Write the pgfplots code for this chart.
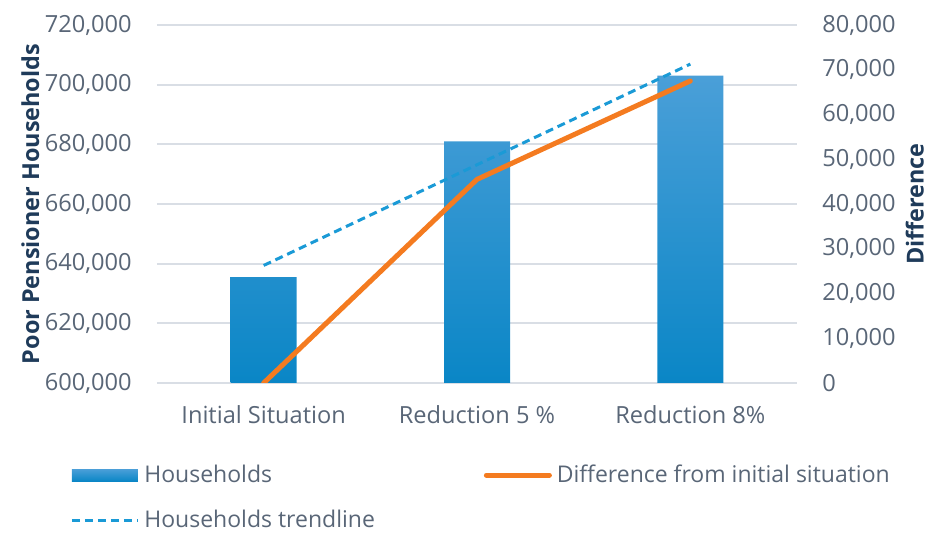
\documentclass[border=0pt]{standalone}
\usepackage{pgfplots}
\pgfplotsset{compat=1.18}
\usepackage{fontspec}
\setmainfont{Open Sans}
\definecolor{tickc}{HTML}{596677}
\definecolor{labc}{HTML}{1F3B5A}
\definecolor{gridc}{HTML}{D9DEE5}
\definecolor{bartop}{HTML}{4A9FD8}
\definecolor{barmid}{HTML}{0A96D6}
\definecolor{barbot}{HTML}{0A86C6}
\definecolor{barleg}{HTML}{0A8FD0}
\definecolor{orng}{HTML}{F47B20}
\definecolor{trend}{HTML}{1A9AD6}
\newcommand{\shiftdown}[1]{\begingroup\pgfkeys{/pgf/fpu=true,/pgf/fpu/output format=fixed}\pgfmathparse{#1-600000}\xdef\mytrafo{\pgfmathresult}\endgroup\let\pgfmathresult\mytrafo}
\newcommand{\shiftup}[1]{\begingroup\pgfkeys{/pgf/fpu=true,/pgf/fpu/output format=fixed}\pgfmathparse{#1+600000}\xdef\mytrafo{\pgfmathresult}\endgroup\let\pgfmathresult\mytrafo}
\begin{document}
\begin{tikzpicture}
\useasboundingbox (-78.5pt,-75pt) rectangle (385pt,191.5pt);
\begin{axis}[
  at={(0,0)}, anchor=south west,
  scale only axis, width=320pt, height=179pt,
  xmin=-0.5, xmax=2.5,
  y coord trafo/.code={\shiftdown{#1}},
  y coord inv trafo/.code={\shiftup{#1}},
  ymin=600000, ymax=720000,
  ytick={600000,620000,640000,660000,680000,700000,720000},
  yticklabels={{600,000},{620,000},{640,000},{660,000},{680,000},{700,000},{720,000}},
  scaled y ticks=false,
  xtick={0,1,2},
  xticklabels={Initial Situation,Reduction 5 \%,Reduction 8\%},
  axis line style={draw=none},
  major tick length=0pt,
  ymajorgrids, grid style={gridc, line width=1pt},
  tick label style={font=\fontsize{11.8}{14}\selectfont, text=tickc},
  yticklabel style={inner sep=0pt, xshift=-12.5pt},
  xticklabel style={inner sep=0pt, yshift=-11pt},
  ylabel={Poor Pensioner Households},
  ylabel style={at={(axis description cs:-0.198,0.5)}, anchor=center, font=\fontsize{11.7}{14}\selectfont\bfseries, text=labc},
  legend style={at={(axis description cs:-0.136,-0.222)}, anchor=north west, draw=none, fill=none, inner sep=0pt,
    font=\fontsize{11.5}{13.5}\selectfont, text=tickc, nodes={inner xsep=2.5pt, inner ysep=1pt}, row sep=10.5pt},
  legend columns=2,
  legend cell align=left,
  /tikz/every even column/.append style={column sep=52pt},
]
\addplot[ybar, bar width=33pt, bar shift=0pt, draw=none, top color=bartop, middle color=barmid, bottom color=barbot,
  legend image code/.code={\fill[barleg] (0pt,-3pt) rectangle (33pt,3pt);}]
  coordinates {(0,635500) (1,681000) (2,703000)};
\addlegendentry{Households}
\addlegendimage{legend image code/.code={\draw[orng, line width=2.5pt, line cap=round] (1.25pt,0pt) -- (32.75pt,0pt);}}
\addlegendentry{Difference from initial situation}
\addplot[trend, line width=1.5pt, dash pattern=on 4pt off 2.5pt,
  legend image code/.code={\draw[trend, line width=1.5pt, dash pattern=on 4pt off 2.5pt] (0pt,0pt) -- (33pt,0pt);}]
  coordinates {(0,639400) (2,706900)};
\addlegendentry{Households trendline}
\end{axis}
\begin{axis}[
  at={(0,0)}, anchor=south west,
  scale only axis, width=320pt, height=179pt,
  xmin=-0.5, xmax=2.5,
  ymin=0, ymax=80000,
  ytick={0,10000,...,80000},
  scaled y ticks=false,
  axis x line=none,
  axis y line*=right,
  axis line style={draw=none},
  major tick length=0pt,
  /pgf/number format/assume math mode=true,
  /pgf/number format/fixed,
  /pgf/number format/1000 sep={,},
  tick label style={font=\fontsize{11.8}{14}\selectfont, text=tickc},
  yticklabel style={inner sep=0pt, xshift=12.5pt},
  ylabel={Difference},
  ylabel style={at={(axis description cs:1.184,0.5)}, anchor=center, font=\fontsize{11.7}{14}\selectfont\bfseries, text=labc},
]
\addplot[orng, line width=2.5pt, line cap=round, line join=round]
  coordinates {(0,0) (1,45500) (2,67500)};
\end{axis}
\end{tikzpicture}
\end{document}
